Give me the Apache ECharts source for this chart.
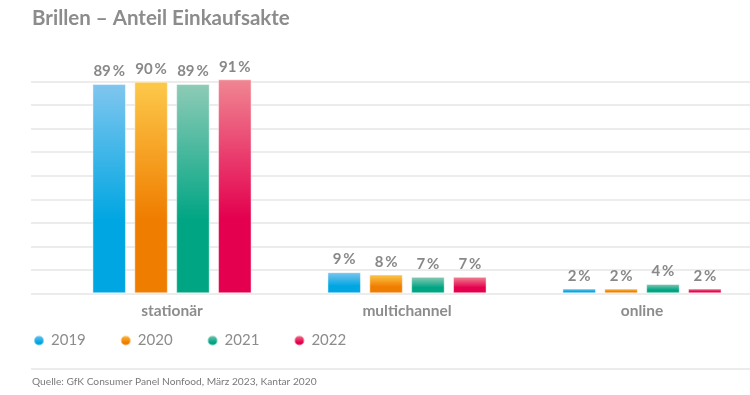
<!DOCTYPE html>
<html>
<head>
<meta charset="utf-8">
<script src="https://cdn.jsdelivr.net/npm/echarts@6/dist/echarts.min.js"></script>
<style>html,body{margin:0;padding:0;background:#fff;}#chart{width:750px;height:395px;}</style>
</head>
<body>
<div id="chart"></div>
<script>
const categories = ['stationär', 'multichannel', 'online'];
const years = ['2019', '2020', '2021', '2022'];
const values2019 = [89, 9, 2];
const values2020 = [90, 8, 2];
const values2021 = [89, 7, 4];
const values2022 = [91, 7, 2];
const seriesValues = [values2019, values2020, values2021, values2022];
const colorsBottom = ['#00a6e2', '#ef7d00', '#00a584', '#e4004f'];
const colorsTop = ['#80c6ef', '#fdc94b', '#8ecbb6', '#f08692'];

const FONT = 'Lato';
const GRAY = '#8c8c8c';

const chart = echarts.init(document.getElementById('chart'), null, {renderer: 'canvas'});

const series = years.map((y, i) => ({
  name: y,
  type: 'bar',
  xAxisIndex: 1,
  yAxisIndex: 1,
  clip: false,
  data: seriesValues[i],
  barWidth: 33.5,
  barGap: '25%',
  itemStyle: {
    color: new echarts.graphic.LinearGradient(0, 0, 0, 1, [
      {offset: 0, color: colorsTop[i]},
      {offset: 0.65, color: colorsBottom[i]},
      {offset: 1, color: colorsBottom[i]}
    ]),
    borderColor: 'rgba(255,255,255,0.45)',
    borderWidth: 1
  },
  label: {
    show: true,
    position: 'top',
    distance: 5,
    formatter: p => p.value + '\u2009%',
    fontFamily: FONT,
    fontWeight: 'bold',
    fontSize: 15,
    color: '#888'
  }
}));

chart.setOption({
  animation: false,
  backgroundColor: '#fff',
  textStyle: {fontFamily: FONT},
  title: [
    {text: 'Brillen – Anteil Einkaufsakte', left: 27, top: 3,
     textStyle: {fontFamily: FONT, fontSize: 20.5, fontWeight: 'bold', color: GRAY}},
    {text: 'Quelle: GfK Consumer Panel Nonfood, März 2023, Kantar 2020', left: 27, top: 372,
     textStyle: {fontFamily: FONT, fontSize: 10.2, fontWeight: 'normal', color: '#7a7a7a'}}
  ],
  legend: {
    data: years,
    left: 28, top: 328,
    icon: 'circle',
    itemWidth: 10, itemHeight: 10,
    itemGap: 34,
    textStyle: {fontFamily: FONT, fontSize: 15, color: GRAY, padding: [0, 0, 0, 2]}
  },
  graphic: [
    {type: 'line', shape: {x1: 31, y1: 369, x2: 750, y2: 369},
     style: {stroke: '#e6e6e6', lineWidth: 1.5}, silent: true}
  ],
  grid: [
    {left: 31, right: 0, top: 58.2, bottom: 101.7},
    {left: 172, right: 108, top: 58.2, bottom: 101.7}
  ],
  xAxis: [
    {gridIndex: 0, type: 'category', data: categories, show: false},
    {gridIndex: 1, type: 'category', data: categories, boundaryGap: false,
     axisLine: {show: false}, axisTick: {show: false},
     axisLabel: {margin: 10, fontFamily: FONT, fontWeight: 'bold', fontSize: 15.5, color: GRAY}}
  ],
  yAxis: [
    {gridIndex: 0, type: 'value', min: 0, max: 100, interval: 10,
     axisLine: {show: false}, axisTick: {show: false}, axisLabel: {show: false},
     splitLine: {show: true, showMaxLine: false, lineStyle: {color: '#e6e6e6', width: 1.5}}},
    {gridIndex: 1, type: 'value', min: 0, max: 100, interval: 10, show: false,
     splitLine: {show: false}}
  ],
  series: series
});
</script>
</body>
</html>
